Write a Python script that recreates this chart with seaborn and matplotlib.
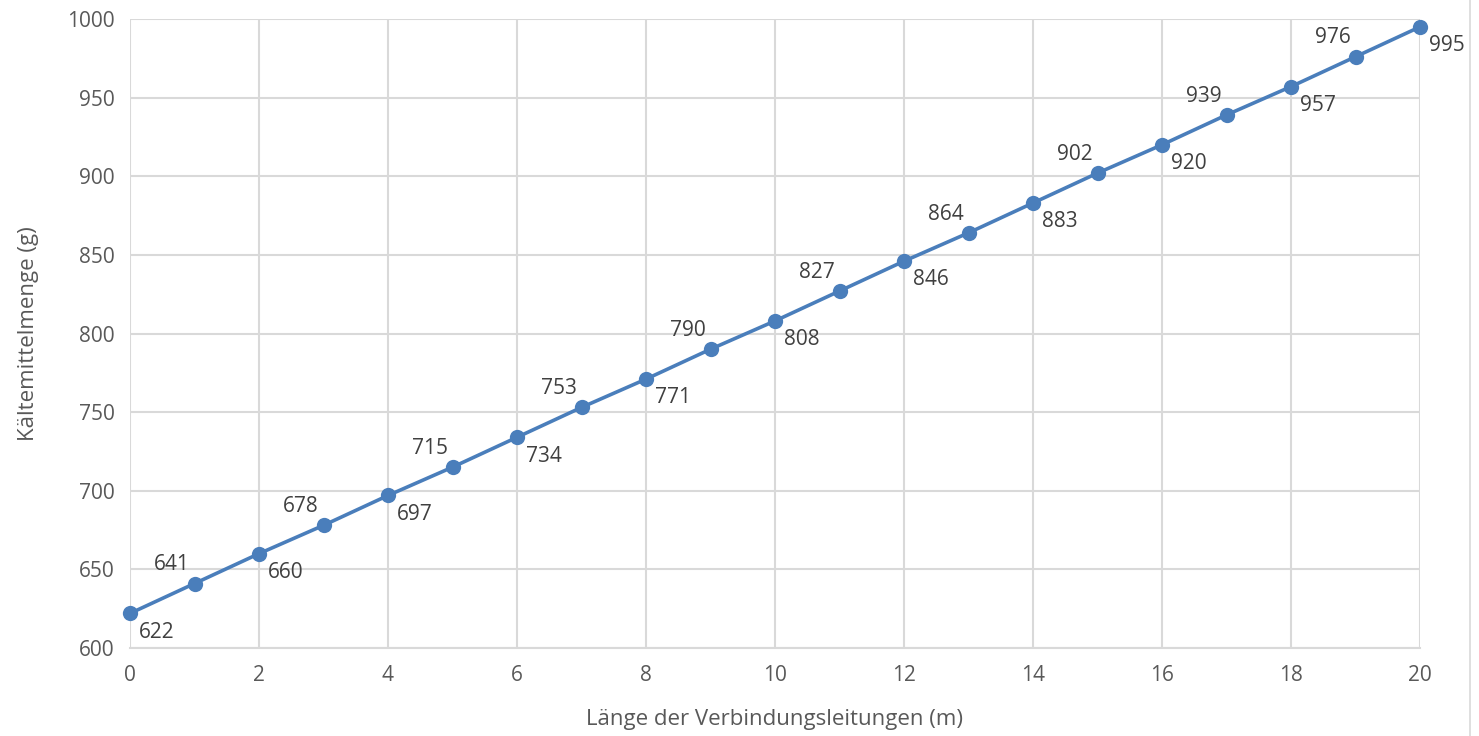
import matplotlib
matplotlib.use("Agg")
import matplotlib.pyplot as plt
from matplotlib.lines import Line2D
import seaborn as sns
import pandas as pd

laenge = list(range(0, 21))
menge = [622, 641, 660, 678, 697, 715, 734, 753, 771, 790, 808,
         827, 846, 864, 883, 902, 920, 939, 957, 976, 995]
x_ticks = list(range(0, 21, 2))
y_ticks = list(range(600, 1001, 50))

df = pd.DataFrame({"x": laenge, "y": menge})

sns.set_theme(style="white")
plt.rcParams['font.family'] = ['Open Sans', 'DejaVu Sans']

fig = plt.figure(figsize=(14.79, 7.36), dpi=100)
ax = fig.add_axes([130/1479, 1 - 648/736, (1420-130)/1479, (648-19)/736])

color = "#4a7ebb"
sns.lineplot(data=df, x="x", y="y", ax=ax, color=color, linewidth=2.6,
             marker="o", markersize=11, markeredgewidth=0, markerfacecolor=color,
             clip_on=False, zorder=3)

fs = 15
for xi, yi in zip(laenge, menge):
    if xi % 2 == 0:
        ax.annotate(str(yi), (xi, yi), xytext=(6.5, -13.5), textcoords="offset points",
                    ha="left", va="center", fontsize=fs, color="#404040")
    else:
        ax.annotate(str(yi), (xi, yi), xytext=(-3.5, 13.5), textcoords="offset points",
                    ha="right", va="center", fontsize=fs, color="#404040")

ax.set_xlim(0, 20)
ax.set_ylim(600, 1000)
ax.set_xticks(x_ticks)
ax.set_yticks(y_ticks)
ax.grid(True, color="#d9d9d9", linewidth=1.5)
ax.set_axisbelow(True)
for s in ["top", "right", "left"]:
    ax.spines[s].set_visible(False)
ax.spines["bottom"].set_color("#d9d9d9")
ax.spines["bottom"].set_linewidth(1.5)
ax.tick_params(axis="both", length=0, labelsize=fs, labelcolor="#595959")
ax.tick_params(axis="x", pad=12)
ax.tick_params(axis="y", pad=11)
ax.set_xlabel("Länge der Verbindungsleitungen (m)", fontsize=16, color="#595959", labelpad=17)
ax.set_ylabel("Kältemittelmenge (g)", fontsize=16, color="#595959", labelpad=20)

fig.add_artist(Line2D([1470/1479, 1470/1479], [0, 1], transform=fig.transFigure,
                      color="#d9d9d9", linewidth=1.2))

fig.savefig("out.png", dpi=100, facecolor="white")
